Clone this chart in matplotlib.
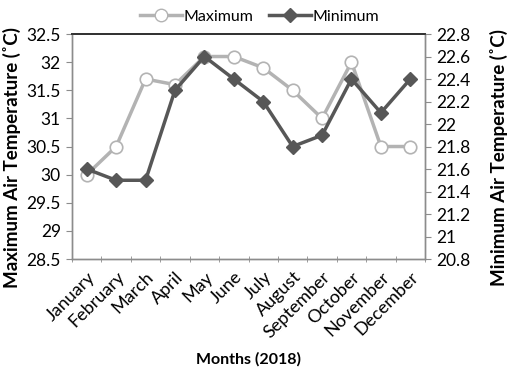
import matplotlib
matplotlib.use("Agg")
import matplotlib.pyplot as plt
from matplotlib.lines import Line2D

months = ["January", "February", "March", "April", "May", "June", "July",
          "August", "September", "October", "November", "December"]
max_temp = [30.0, 30.5, 31.7, 31.6, 32.1, 32.1, 31.9, 31.5, 31.0, 32.0, 30.5, 30.5]
min_temp = [21.6, 21.5, 21.5, 22.3, 22.6, 22.4, 22.2, 21.8, 21.9, 22.4, 22.1, 22.4]
left_ticks = [28.5, 29, 29.5, 30, 30.5, 31, 31.5, 32, 32.5]
right_ticks = [20.8, 21.0, 21.2, 21.4, 21.6, 21.8, 22.0, 22.2, 22.4, 22.6, 22.8]

plt.rcParams['font.family'] = ['Lato', 'DejaVu Sans']
light = '#b3b3b3'
dark = '#575757'
axcol = '#8c8c8c'

fig = plt.figure(figsize=(5.09, 3.73), dpi=100)
ax = fig.add_axes([0.1415, 0.3056, 0.6935, 0.6032])
ax2 = ax.twinx()

x = list(range(len(months)))
ax.plot(x, max_temp, color=light, lw=2.5, marker='o', ms=9,
        mfc='white', mec=light, mew=1.2, zorder=3)
ax2.plot(x, min_temp, color=dark, lw=2.5, marker='D', ms=7,
         mfc=dark, mec=dark, zorder=4)

ax.set_xlim(-0.5, 11.5)
ax.set_ylim(28.5, 32.5)
ax2.set_ylim(20.8, 22.8)
ax.set_yticks(left_ticks)
ax.set_yticklabels([f"{v:g}" for v in left_ticks])
ax2.set_yticks(right_ticks)
ax2.set_yticklabels([f"{v:g}" if v in (21.0, 22.0) else f"{v:.1f}" for v in right_ticks])

ax.set_xticks(x)
ax.set_xticklabels(months, rotation=45, ha='right', rotation_mode='anchor', fontsize=13)
ax.set_xticks([i + 0.5 for i in range(-1, 12)], minor=True)
ax.tick_params(axis='x', which='major', length=0, pad=7)
ax.tick_params(axis='x', which='minor', length=5, color=axcol, direction='inout')
ax.tick_params(axis='y', labelsize=12.5, length=4, color=axcol, pad=4)
ax2.tick_params(axis='y', labelsize=12.5, length=4, color=axcol, pad=4)

for a in (ax, ax2):
    for s in ['left', 'right', 'bottom']:
        a.spines[s].set_color(axcol)
        a.spines[s].set_linewidth(1.0)
    a.spines['top'].set_color('#333333')
    a.spines['top'].set_linewidth(1.3)

ax.set_ylabel("Maximum Air Temperature (˚C)", fontsize=13.5, fontweight='bold')
ax2.set_ylabel("Minimum Air Temperature (˚C)", fontsize=13.5, fontweight='bold')
ax.yaxis.set_label_coords(-0.145, 0.45)
ax2.yaxis.set_label_coords(1.185, 0.45)
ax.set_xlabel("Months (2018)", fontsize=11.5, fontweight='bold', labelpad=8)

handles = [Line2D([], [], color=light, lw=2.5, marker='o', ms=9, mfc='white', mec=light),
           Line2D([], [], color=dark, lw=2.5, marker='D', ms=7, mfc=dark, mec=dark)]
fig.legend(handles, ["Maximum", "Minimum"], loc='center', bbox_to_anchor=(0.51, 0.955),
           ncol=2, frameon=False, fontsize=11.5, handlelength=2.6, handletextpad=0.1,
           columnspacing=1.0)

fig.savefig("out.png", dpi=100)
